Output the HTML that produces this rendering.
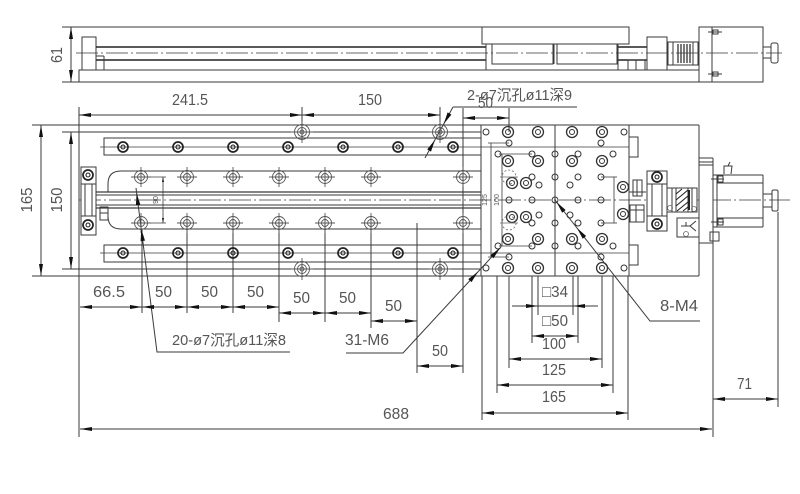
<!DOCTYPE html>
<html><head><meta charset="utf-8"><style>
html,body{margin:0;padding:0;background:#fff;}
svg{display:block;}
text{font-family:"Liberation Sans","Noto Sans CJK SC",sans-serif;fill:#555;}
</style></head><body>
<svg width="800" height="494" viewBox="0 0 800 494" xmlns="http://www.w3.org/2000/svg">
<defs>
<g id="ch" fill="none" stroke="#555" stroke-width="0.9"><circle r="6.5"/><circle r="3.5"/><line x1="-10" y1="0" x2="10" y2="0"/><line x1="0" y1="-10" x2="0" y2="10"/></g>
<g id="chb" fill="none" stroke="#555" stroke-width="0.9"><circle r="7.5"/><circle r="4.5"/><circle r="2"/><line x1="-11" y1="0" x2="11" y2="0"/><line x1="0" y1="-11" x2="0" y2="11"/></g>
<g id="rh" fill="none" stroke="#222"><circle r="5" stroke-width="1.7"/><circle r="2" stroke-width="1.1"/></g>
<g id="bh" fill="none" stroke="#333"><circle r="5.5" stroke-width="1.3"/><circle r="2.5" stroke-width="1"/></g>
<g id="sh" fill="none" stroke="#333" stroke-width="1"><circle r="3"/></g>
</defs>

<g fill="none" stroke="#3a3a3a" stroke-width="1">
<!-- ===== SIDE VIEW ===== -->
<line x1="62" y1="27" x2="482" y2="27"/>
<line x1="62" y1="82" x2="699" y2="82"/>
<rect x="79" y="70" width="620" height="12"/>
<rect x="82" y="37" width="14" height="33"/>
<line x1="96" y1="47" x2="647" y2="47" stroke-width="1.6" stroke="#222"/>
<line x1="96" y1="60" x2="647" y2="60" stroke-width="1.6" stroke="#222"/>
<line x1="104" y1="56" x2="104" y2="70"/>
<line x1="96" y1="56" x2="104" y2="56"/>
<rect x="486" y="44" width="132" height="26" fill="#fff"/>
<rect x="492" y="44" width="61" height="20"/>
<rect x="557" y="44" width="60" height="20"/>
<line x1="554" y1="44" x2="554" y2="64"/>
<rect x="482" y="27" width="147" height="17" fill="#fff"/>
<rect x="647" y="37" width="20" height="33" fill="#fff"/>
<rect x="628" y="60" width="17" height="10"/>
<line x1="636" y1="60" x2="636" y2="70"/>
<line x1="667" y1="45" x2="675" y2="45"/>
<rect x="668" y="42" width="30" height="23" fill="#fff"/>
<line x1="673" y1="42" x2="673" y2="65"/>
<line x1="693" y1="42" x2="693" y2="65"/>
<g stroke="#222" stroke-width="1.2"><line x1="678" y1="44" x2="678" y2="63"/><line x1="681" y1="44" x2="681" y2="63"/><line x1="684" y1="44" x2="684" y2="63"/><line x1="687" y1="44" x2="687" y2="63"/><line x1="690" y1="44" x2="690" y2="63"/></g>
<rect x="699" y="27" width="13" height="55" fill="#fff"/>
<rect x="712" y="27" width="51" height="55"/>
<rect x="713" y="30" width="5" height="4"/>
<rect x="713" y="72" width="5" height="4"/>
<line x1="708" y1="32" x2="722" y2="32"/>
<line x1="708" y1="74" x2="722" y2="74"/>
<rect x="763" y="47" width="8" height="11"/>
<rect x="771" y="43" width="7" height="20" rx="2"/>
<line x1="76" y1="53" x2="782" y2="53" stroke-dasharray="22 3 2 3" stroke-width="0.8"/>
<!-- 61 dim -->
<line x1="71" y1="27" x2="71" y2="82"/>

<!-- ===== PLAN VIEW ===== -->
<line x1="32" y1="125" x2="699" y2="125"/>
<line x1="32" y1="276" x2="699" y2="276"/>
<line x1="79" y1="107" x2="79" y2="437"/>
<line x1="699" y1="125" x2="699" y2="276"/>
<line x1="62" y1="132" x2="481" y2="132"/>
<line x1="62" y1="269" x2="481" y2="269"/>
<!-- rails -->
<rect x="104" y="138" width="377" height="17"/>
<rect x="104" y="245" width="377" height="17"/>
<line x1="100" y1="147" x2="629" y2="147" stroke-width="0.8"/>
<line x1="100" y1="253" x2="629" y2="253" stroke-width="0.8"/>
<!-- slot -->
<path d="M481,171 H121 Q108,171 108,184 V192"/>
<path d="M481,229 H121 Q108,229 108,216 V208"/>
<!-- screw -->
<line x1="96" y1="192" x2="481" y2="192" stroke-width="1.3"/>
<line x1="96" y1="195" x2="481" y2="195"/>
<line x1="96" y1="205" x2="481" y2="205"/>
<line x1="96" y1="208" x2="481" y2="208" stroke-width="1.3"/>
<line x1="79" y1="200" x2="790" y2="200" stroke-dasharray="22 3 2 3" stroke-width="0.8"/>
<!-- left bracket -->
<rect x="81" y="167" width="15" height="68" fill="#fff"/>
<line x1="81" y1="184" x2="96" y2="184"/>
<line x1="81" y1="216" x2="96" y2="216"/>
<line x1="85" y1="184" x2="85" y2="216"/>
<line x1="92" y1="184" x2="92" y2="216"/>
<rect x="100" y="207" width="8" height="13"/>
<line x1="100" y1="213" x2="108" y2="213"/>
<!-- 90 dim -->
<line x1="147" y1="177" x2="166" y2="177" stroke-width="0.7"/>
<line x1="147" y1="223" x2="166" y2="223" stroke-width="0.7"/>
<line x1="163" y1="177" x2="163" y2="223" stroke-width="0.8"/>
<!-- carriage -->
<line x1="481" y1="125" x2="481" y2="276"/>
<line x1="629" y1="125" x2="629" y2="276"/>
<rect x="629" y="137" width="9" height="20"/>
<rect x="629" y="245" width="9" height="20"/>
<line x1="555" y1="125" x2="555" y2="276"/>
<!-- inner carriage dims -->
<line x1="491" y1="143" x2="491" y2="257" stroke-width="0.8"/>
<line x1="488" y1="143" x2="509" y2="143" stroke-width="0.8"/>
<line x1="488" y1="257" x2="509" y2="257" stroke-width="0.8"/>
<line x1="502" y1="154" x2="502" y2="246" stroke-width="0.8"/>
<line x1="499" y1="154" x2="532" y2="154" stroke-width="0.8"/>
<line x1="499" y1="246" x2="532" y2="246" stroke-width="0.8"/>
<line x1="614" y1="177" x2="614" y2="223" stroke-width="0.8"/>
<line x1="601" y1="177" x2="617" y2="177" stroke-width="0.8"/>
<line x1="601" y1="223" x2="617" y2="223" stroke-width="0.8"/>
<!-- right mechanism -->
<rect x="633" y="180" width="9" height="16"/>
<line x1="629" y1="192" x2="646" y2="192"/>
<line x1="637" y1="180" x2="637" y2="196"/>
<rect x="630" y="205" width="14" height="17"/>
<line x1="630" y1="210" x2="644" y2="210"/>
<line x1="636" y1="205" x2="636" y2="222"/>
<rect x="647" y="171" width="20" height="60" fill="#fff"/>
<line x1="647" y1="184" x2="667" y2="184"/>
<line x1="647" y1="216" x2="667" y2="216"/>
<line x1="652" y1="184" x2="652" y2="216"/>
<line x1="662" y1="184" x2="662" y2="216"/>
<rect x="667" y="188" width="30" height="24" fill="#fff"/>
<line x1="672" y1="188" x2="672" y2="212"/>
<line x1="676" y1="188" x2="676" y2="212"/>
<line x1="688" y1="188" x2="688" y2="212"/>
<line x1="692" y1="188" x2="692" y2="212"/>
<g stroke="#222" stroke-width="1.1"><line x1="676" y1="194" x2="682" y2="189"/><line x1="676" y1="200" x2="688" y2="190"/><line x1="676" y1="206" x2="688" y2="196"/><line x1="677" y1="211" x2="688" y2="202"/><line x1="683" y1="211" x2="688" y2="207"/><line x1="689" y1="190" x2="689" y2="210" stroke-width="2"/></g>
<rect x="677" y="218" width="22" height="19"/>
<path d="M681,226 L690,226 L696,221 M690,226 L696,231 M686,222 V226"/>
<!-- flange & motor -->
<rect x="699" y="165" width="14" height="78" fill="#fff"/>
<line x1="699" y1="158" x2="713" y2="158"/>
<line x1="699" y1="162" x2="713" y2="162"/>
<line x1="699" y1="158" x2="699" y2="165"/>
<line x1="713" y1="158" x2="713" y2="165"/>
<rect x="710" y="232" width="9" height="9"/>
<line x1="713" y1="175" x2="763" y2="175"/>
<line x1="713" y1="227" x2="763" y2="227"/>
<line x1="763" y1="175" x2="763" y2="227"/>
<line x1="717" y1="175" x2="717" y2="227"/>
<line x1="717" y1="183" x2="763" y2="183"/>
<line x1="717" y1="218" x2="763" y2="218"/>
<line x1="711" y1="179" x2="724" y2="179"/>
<line x1="711" y1="222" x2="724" y2="222"/>
<rect x="718" y="176" width="5" height="6"/>
<rect x="718" y="219" width="5" height="6"/>
<path d="M724,174 V166 H732 L731,174 M728,166 L730,162"/>
<rect x="763" y="194" width="9" height="13"/>
<rect x="772" y="190" width="6" height="21" rx="1.5"/>
<line x1="713" y1="243" x2="713" y2="437"/>
<line x1="778" y1="212" x2="778" y2="407"/>

<!-- ===== DIMENSIONS ===== -->
<line x1="302" y1="107" x2="302" y2="140"/>
<line x1="440" y1="107" x2="440" y2="140"/>
<line x1="79" y1="115" x2="440" y2="115"/>
<line x1="463" y1="108" x2="463" y2="373"/>
<line x1="509" y1="108" x2="509" y2="132"/>
<line x1="463" y1="118" x2="509" y2="118"/>
<line x1="453" y1="107" x2="577" y2="107"/>
<line x1="453" y1="107" x2="425" y2="158"/>
<line x1="41" y1="125" x2="41" y2="276"/>
<line x1="71" y1="132" x2="71" y2="269"/>
<!-- bottom chain -->
<line x1="142" y1="229" x2="142" y2="313"/>
<line x1="187" y1="223" x2="187" y2="313"/>
<line x1="233" y1="223" x2="233" y2="313"/>
<line x1="279" y1="223" x2="279" y2="322"/>
<line x1="325" y1="223" x2="325" y2="322"/>
<line x1="371" y1="223" x2="371" y2="328"/>
<line x1="417" y1="223" x2="417" y2="373"/>
<line x1="80" y1="307" x2="279" y2="307"/>
<line x1="279" y1="313" x2="371" y2="313"/>
<line x1="371" y1="321" x2="417" y2="321"/>
<line x1="417" y1="366" x2="463" y2="366"/>
<!-- leaders -->
<polyline points="136,188 157,352 290,352"/>
<polyline points="346,353 403,353 500,248"/>
<polyline points="555,200 650,321 700,321"/>
<!-- carriage bottom dims -->
<line x1="538" y1="276" x2="538" y2="315"/>
<line x1="573" y1="276" x2="573" y2="315"/>
<line x1="512" y1="306" x2="598" y2="306"/>
<line x1="532" y1="276" x2="532" y2="343"/>
<line x1="578" y1="276" x2="578" y2="343"/>
<line x1="532" y1="336" x2="578" y2="336"/>
<line x1="509" y1="276" x2="509" y2="368"/>
<line x1="602" y1="276" x2="602" y2="368"/>
<line x1="509" y1="359" x2="602" y2="359"/>
<line x1="497" y1="276" x2="497" y2="393"/>
<line x1="613" y1="276" x2="613" y2="393"/>
<line x1="497" y1="385" x2="613" y2="385"/>
<line x1="482" y1="276" x2="482" y2="420"/>
<line x1="628" y1="276" x2="628" y2="420"/>
<line x1="482" y1="413" x2="628" y2="413"/>
<line x1="80" y1="429" x2="712" y2="429"/>
<line x1="713" y1="399" x2="778" y2="399"/>
</g>

<!-- holes -->
<g>
<use href="#rh" x="123" y="147"/><use href="#rh" x="178" y="147"/><use href="#rh" x="233" y="147"/><use href="#rh" x="288" y="147"/><use href="#rh" x="343" y="147"/><use href="#rh" x="398" y="147"/><use href="#rh" x="453" y="147"/>
<use href="#rh" x="123" y="253"/><use href="#rh" x="178" y="253"/><use href="#rh" x="233" y="253"/><use href="#rh" x="288" y="253"/><use href="#rh" x="343" y="253"/><use href="#rh" x="398" y="253"/><use href="#rh" x="453" y="253"/>
<use href="#ch" x="141" y="177"/><use href="#ch" x="187" y="177"/><use href="#ch" x="233" y="177"/><use href="#ch" x="279" y="177"/><use href="#ch" x="325" y="177"/><use href="#ch" x="371" y="177"/><use href="#ch" x="463" y="177"/>
<use href="#ch" x="141" y="223"/><use href="#ch" x="187" y="223"/><use href="#ch" x="233" y="223"/><use href="#ch" x="279" y="223"/><use href="#ch" x="325" y="223"/><use href="#ch" x="371" y="223"/><use href="#ch" x="463" y="223"/>
<use href="#chb" x="302" y="132"/><use href="#chb" x="440" y="132"/><use href="#chb" x="302" y="269"/><use href="#chb" x="440" y="269"/>
<use href="#rh" x="88" y="175"/><use href="#rh" x="88" y="225"/>
<!-- carriage -->
<use href="#bh" x="508" y="132"/><use href="#bh" x="538" y="132"/><use href="#bh" x="572" y="132"/><use href="#bh" x="602" y="132"/>
<use href="#bh" x="508" y="161"/><use href="#bh" x="538" y="161"/><use href="#bh" x="572" y="161"/><use href="#bh" x="602" y="161"/>
<use href="#bh" x="508" y="239"/><use href="#bh" x="538" y="239"/><use href="#bh" x="572" y="239"/><use href="#bh" x="602" y="239"/>
<use href="#bh" x="508" y="268"/><use href="#bh" x="538" y="268"/><use href="#bh" x="572" y="268"/><use href="#bh" x="602" y="268"/>
<use href="#bh" x="512" y="183"/><use href="#bh" x="526" y="183"/><use href="#bh" x="512" y="217"/><use href="#bh" x="526" y="217"/>
<use href="#sh" x="486" y="132"/><use href="#sh" x="624" y="132"/><use href="#sh" x="486" y="268"/><use href="#sh" x="624" y="268"/>
<use href="#sh" x="509" y="143"/><use href="#sh" x="601" y="143"/><use href="#sh" x="509" y="257"/><use href="#sh" x="601" y="257"/>
<use href="#sh" x="498" y="154"/><use href="#sh" x="532" y="154"/><use href="#sh" x="555" y="154"/><use href="#sh" x="578" y="154"/><use href="#sh" x="613" y="154"/>
<use href="#sh" x="498" y="246"/><use href="#sh" x="532" y="246"/><use href="#sh" x="555" y="246"/><use href="#sh" x="578" y="246"/><use href="#sh" x="613" y="246"/>
<use href="#sh" x="532" y="177"/><use href="#sh" x="555" y="177"/><use href="#sh" x="578" y="177"/><use href="#sh" x="601" y="177"/>
<use href="#sh" x="532" y="223"/><use href="#sh" x="555" y="223"/><use href="#sh" x="578" y="223"/><use href="#sh" x="601" y="223"/>
<use href="#sh" x="539" y="185"/><use href="#sh" x="570" y="185"/><use href="#sh" x="539" y="215"/><use href="#sh" x="570" y="215"/>
<use href="#sh" x="509" y="200"/><use href="#sh" x="532" y="200"/><use href="#sh" x="555" y="200"/><use href="#sh" x="578" y="200"/><use href="#sh" x="601" y="200"/>
<use href="#bh" x="623" y="187"/><use href="#bh" x="623" y="214"/>
<use href="#rh" x="657" y="177"/><use href="#rh" x="657" y="224"/>
</g>
<g fill="none" stroke="#666" stroke-width="0.8">
<circle cx="509" cy="177" r="7" stroke-dasharray="2 2"/><line x1="500" y1="177" x2="518" y2="177"/>
<circle cx="509" cy="223" r="7" stroke-dasharray="2 2"/><line x1="500" y1="223" x2="518" y2="223"/>
<circle cx="670" cy="208" r="2.5"/><circle cx="694" cy="209" r="2.5"/><circle cx="686" cy="234" r="2.5"/>
</g>

<!-- arrowheads -->
<g fill="#111" stroke="none">
<polygon points="71,27 69,39 73,39"/><polygon points="71,82 69,70 73,70"/>
<polygon points="79,115 91,113 91,117"/><polygon points="302,115 290,113 290,117"/><polygon points="302,115 314,113 314,117"/><polygon points="440,115 428,113 428,117"/>
<polygon points="463,118 475,116 475,120"/><polygon points="509,118 497,116 497,120"/>
<polygon points="41,125 39,137 43,137"/><polygon points="41,276 39,264 43,264"/>
<polygon points="71,132 69,144 73,144"/><polygon points="71,269 69,257 73,257"/>
<polygon points="80,307 92,305 92,309"/><polygon points="142,307 130,305 130,309"/><polygon points="142,307 154,305 154,309"/><polygon points="187,307 175,305 175,309"/><polygon points="187,307 199,305 199,309"/><polygon points="233,307 221,305 221,309"/><polygon points="233,307 245,305 245,309"/><polygon points="279,307 267,305 267,309"/>
<polygon points="279,313 291,311 291,315"/><polygon points="325,313 313,311 313,315"/><polygon points="325,313 337,311 337,315"/><polygon points="371,313 359,311 359,315"/>
<polygon points="371,321 383,319 383,323"/><polygon points="417,321 405,319 405,323"/>
<polygon points="417,366 429,364 429,368"/><polygon points="463,366 451,364 451,368"/>
<polygon points="538,306 526,304 526,308"/><polygon points="573,306 585,304 585,308"/>
<polygon points="532,336 544,334 544,338"/><polygon points="578,336 566,334 566,338"/>
<polygon points="509,359 521,357 521,361"/><polygon points="602,359 590,357 590,361"/>
<polygon points="497,385 509,383 509,387"/><polygon points="613,385 601,383 601,387"/>
<polygon points="482,413 494,411 494,415"/><polygon points="628,413 616,411 616,415"/>
<polygon points="80,429 92,427 92,431"/><polygon points="712,429 700,427 700,431"/>
<polygon points="713,399 725,397 725,401"/><polygon points="778,399 766,397 766,401"/>
<polygon points="443.7,124 447.6,112.4 451.4,114.6"/><polygon points="434.9,140 427.2,149.4 431,151.6"/>
<polygon points="136.6,193 135.9,205.2 140.3,204.6"/><polygon points="141.3,229 140.6,241.2 145,240.6"/>
<polygon points="478,271.8 468.3,279.1 471.5,282.1"/><polygon points="500,248 490.3,255.3 493.5,258.3"/>
<polygon points="556.5,202 562.2,212.8 565.6,210"/><polygon points="577,228 582.7,238.8 586.1,236"/>
<polygon points="163,177 162,182 164,182"/><polygon points="163,223 162,218 164,218"/>
</g>

<!-- text -->
<g font-size="16">
<text transform="translate(62,55) rotate(-90)" text-anchor="middle" textLength="16" lengthAdjust="spacingAndGlyphs">61</text>
<text x="172" y="105" textLength="36" lengthAdjust="spacingAndGlyphs">241.5</text>
<text x="358" y="105" textLength="24" lengthAdjust="spacingAndGlyphs">150</text>
<text transform="translate(32,200) rotate(-90)" text-anchor="middle" textLength="25" lengthAdjust="spacingAndGlyphs">165</text>
<text transform="translate(62,200) rotate(-90)" text-anchor="middle" textLength="25" lengthAdjust="spacingAndGlyphs">150</text>
<text x="478" y="108" textLength="15" lengthAdjust="spacingAndGlyphs">50</text>
<text x="93" y="297" textLength="32" lengthAdjust="spacingAndGlyphs">66.5</text>
<text x="155" y="297" textLength="17" lengthAdjust="spacingAndGlyphs">50</text>
<text x="201" y="297" textLength="17" lengthAdjust="spacingAndGlyphs">50</text>
<text x="247" y="297" textLength="17" lengthAdjust="spacingAndGlyphs">50</text>
<text x="293" y="303" textLength="17" lengthAdjust="spacingAndGlyphs">50</text>
<text x="339" y="303" textLength="17" lengthAdjust="spacingAndGlyphs">50</text>
<text x="385" y="311" textLength="17" lengthAdjust="spacingAndGlyphs">50</text>
<text x="432" y="356" textLength="16" lengthAdjust="spacingAndGlyphs">50</text>
<text x="345" y="345" textLength="44" lengthAdjust="spacingAndGlyphs">31-M6</text>
<text x="660" y="311" textLength="38" lengthAdjust="spacingAndGlyphs">8-M4</text>
<text x="542" y="297" textLength="26" lengthAdjust="spacingAndGlyphs">□34</text>
<text x="542" y="326" textLength="26" lengthAdjust="spacingAndGlyphs">□50</text>
<text x="542" y="349" textLength="24" lengthAdjust="spacingAndGlyphs">100</text>
<text x="542" y="375" textLength="24" lengthAdjust="spacingAndGlyphs">125</text>
<text x="542" y="402" textLength="24" lengthAdjust="spacingAndGlyphs">165</text>
<text x="383" y="419" textLength="26" lengthAdjust="spacingAndGlyphs">688</text>
<text x="737" y="389" textLength="15" lengthAdjust="spacingAndGlyphs">71</text>
</g>
<g font-size="15">
<text x="467" y="100" textLength="105" lengthAdjust="spacingAndGlyphs">2-ø7沉孔ø11深9</text>
<text x="172" y="345" textLength="114" lengthAdjust="spacingAndGlyphs">20-ø7沉孔ø11深8</text>
</g>
<g font-size="7">
<text transform="translate(158,200) rotate(-90)" text-anchor="middle">90</text>
<text transform="translate(487,200) rotate(-90)" text-anchor="middle">125</text>
<text transform="translate(499,200) rotate(-90)" text-anchor="middle">100</text>
</g>
</svg>
</body></html>
